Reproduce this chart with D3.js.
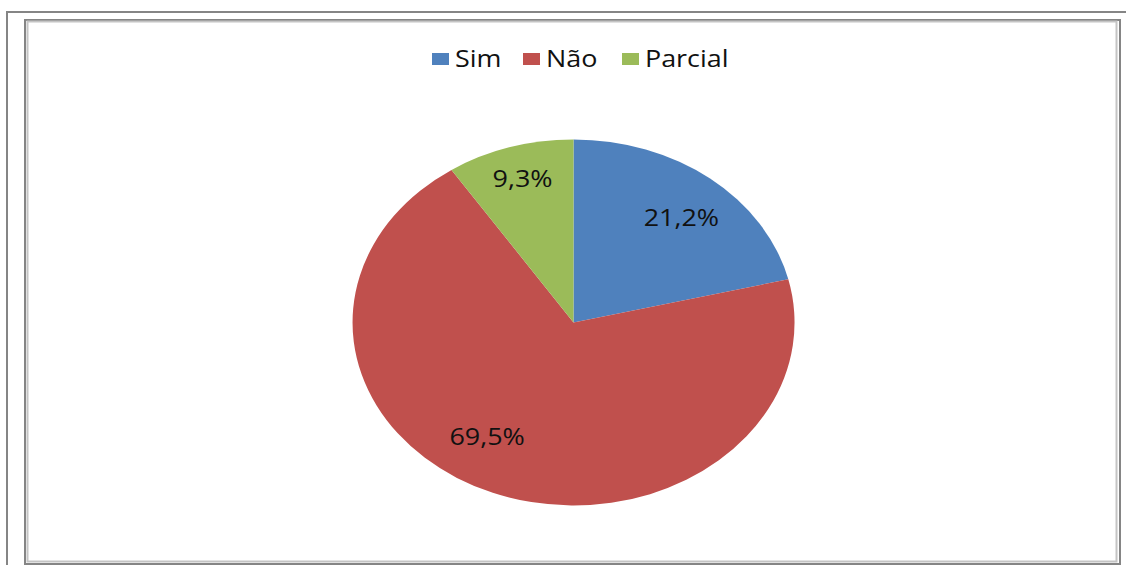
<!DOCTYPE html>
<html>
<head>
<meta charset="utf-8">
<title>Sim / Não / Parcial</title>
<script src="https://d3js.org/d3.v7.min.js"></script>
<style>
html, body {
	margin: 0;
	padding: 0;
	background-color: white;
	overflow: hidden;
}
text {
	font-family: "Open Sans", sans-serif;
	fill: #111;
}
</style>
</head>
<body>
<div id="chart"></div>
<script>
const categories = ["Sim", "Não", "Parcial"];
const values = [21.2, 69.5, 9.3];
const labels = ["21,2%", "69,5%", "9,3%"];
const colors = ["#4F81BD", "#C0504D", "#9BBB59"];

(function() {
"use strict";
const width = 1126, height = 565;
const stretch = 1.17;

const svg = d3.select("#chart")
	.append("svg")
		.attr("width", width)
		.attr("height", height);

// outer frame (runs off the picture on the right and bottom)
svg.append("rect")
	.attr("x", 7).attr("y", 12)
	.attr("width", width).attr("height", height)
	.attr("fill", "none")
	.attr("stroke", "#858585")
	.attr("stroke-width", 2);

// chart area frame
svg.append("rect")
	.attr("x", 25).attr("y", 20)
	.attr("width", 1095).attr("height", 544)
	.attr("fill", "white")
	.attr("stroke", "#858585")
	.attr("stroke-width", 2);
svg.append("rect")
	.attr("x", 27.5).attr("y", 21.5)
	.attr("width", 1089).attr("height", 540)
	.attr("fill", "none")
	.attr("stroke", "#c4c4c4")
	.attr("stroke-width", 2);

// pie, drawn on a unit circle then squashed into the ellipse
const cx = 573.5, cy = 322.5, rx = 221, ry = 183;
const pie = d3.pie().sort(null).value(d => d)(values);
const arc = d3.arc().innerRadius(0).outerRadius(1);

const gPie = svg.append("g")
	.attr("transform", `translate(${cx},${cy}) scale(${rx},${ry})`);
gPie.selectAll("path")
	.data(pie)
	.join("path")
	.attr("d", arc)
	.attr("fill", (d, i) => colors[i]);

// data labels, placed along each slice's middle angle
const labelPos = [[0.79, 0.73], [1.07, 0.67], [0.8, 0.82]];
svg.append("g")
	.selectAll("text")
	.data(pie)
	.join("text")
	.attr("transform", (d, i) => {
		const a = (d.startAngle + d.endAngle) / 2;
		const r = labelPos[i];
		const x = cx + Math.sin(a) * rx * r[0];
		const y = cy - Math.cos(a) * ry * r[1];
		return `translate(${x},${y}) scale(${stretch},1)`;
	})
	.attr("text-anchor", "middle")
	.attr("dy", "0.35em")
	.attr("font-size", 23)
	.text((d, i) => labels[i]);

// legend
const legendX = [432, 523, 622];
const legend = svg.append("g")
	.selectAll("g")
	.data(categories)
	.join("g")
	.attr("transform", (d, i) => `translate(${legendX[i]},53)`);
legend.append("rect")
	.attr("width", 17).attr("height", 12)
	.attr("fill", (d, i) => colors[i]);
legend.append("text")
	.attr("transform", `translate(23,14) scale(${stretch},1)`)
	.attr("font-size", 23)
	.text(d => d);
})();
</script>
</body>
</html>
